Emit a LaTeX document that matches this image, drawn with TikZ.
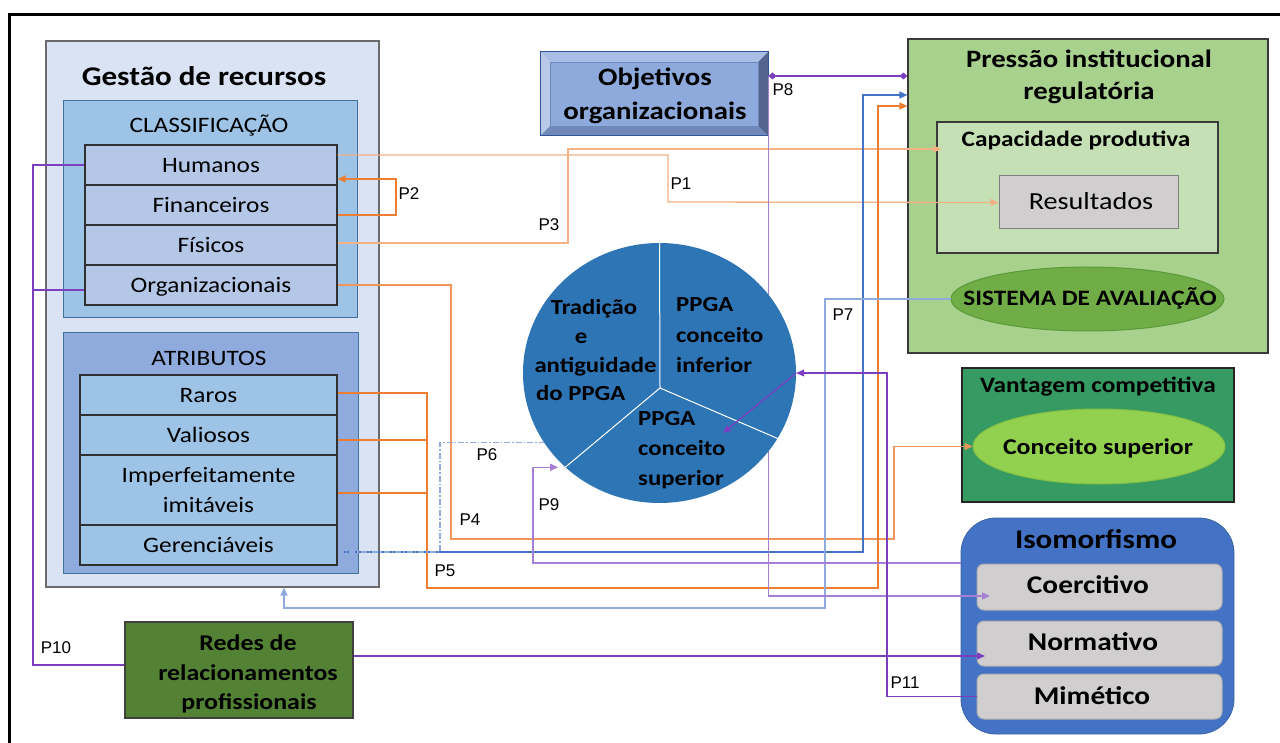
\documentclass[tikz,border=0pt]{standalone}
\usepackage{fontspec}
\setmainfont{Carlito}[FakeStretch=1.15]
\newfontfamily\pfont{Liberation Sans}
\usetikzlibrary{arrows.meta,shapes.geometric,calc}
\definecolor{gestF}{HTML}{DAE3F3}
\definecolor{gestB}{HTML}{6B6B6B}
\definecolor{clsF}{HTML}{9DC3E6}
\definecolor{clsB}{HTML}{41719C}
\definecolor{rowA}{HTML}{B4C7E7}
\definecolor{rowC}{HTML}{9DC3E6}
\definecolor{rowD}{HTML}{303030}
\definecolor{atrF}{HTML}{8FAADC}
\definecolor{objF}{HTML}{8EA9DB}
\definecolor{objT}{HTML}{A9BDE6}
\definecolor{objL}{HTML}{B8C9EA}
\definecolor{objBo}{HTML}{7189B9}
\definecolor{objR}{HTML}{53658F}
\definecolor{objB}{HTML}{2F5597}
\definecolor{presF}{HTML}{A9D18E}
\definecolor{presB}{HTML}{3A3A3A}
\definecolor{capF}{HTML}{C5E0B4}
\definecolor{resF}{HTML}{D0CECE}
\definecolor{resB}{HTML}{7F7F7F}
\definecolor{sisF}{HTML}{70AD47}
\definecolor{sisB}{HTML}{5B9A3A}
\definecolor{vantF}{HTML}{359B63}
\definecolor{concF}{HTML}{92D050}
\definecolor{concB}{HTML}{84C043}
\definecolor{isoF}{HTML}{4472C4}
\definecolor{subF}{HTML}{D0CECE}
\definecolor{subB}{HTML}{AFAFAF}
\definecolor{redF}{HTML}{548235}
\definecolor{pieF}{HTML}{2E75B6}
\definecolor{cO}{HTML}{ED7D31}
\definecolor{cO2}{HTML}{F29559}
\definecolor{cOL}{HTML}{F4B183}
\definecolor{cB}{HTML}{4472C4}
\definecolor{cBL}{HTML}{8FAADC}
\definecolor{cP}{HTML}{7B3FBF}
\definecolor{cPL}{HTML}{A57FD3}
\begin{document}
\begin{tikzpicture}[x=1pt,y=-1pt,
  ln/.style={line width=1.3pt},
  tip/.style={-{Triangle[length=8pt,width=7pt]}},
  bx/.style={draw, line width=1.2pt, inner sep=0pt, rectangle},
  txt/.style={anchor=base, inner sep=0pt},
  lbl/.style={anchor=base, inner sep=0pt, font=\pfont\fontsize{17}{20}\selectfont},
  rowtxt/.style={text height=14.2pt, text depth=0pt, font=\fontsize{22}{30}\selectfont},
  rowc/.style={bx, draw=rowD, line width=1.3pt, fill=rowA, minimum width=252pt, minimum height=40pt, rowtxt},
  rowa/.style={bx, draw=rowD, line width=1.3pt, fill=rowC, minimum width=257pt, minimum height=40pt},
  b22/.style={font=\bfseries\fontsize{22}{30}\selectfont},
  b25/.style={font=\bfseries\fontsize{25}{32}\selectfont},
  pt/.style={inner sep=0pt, font=\bfseries\fontsize{21.5}{29}\selectfont},
  sub/.style={draw=subB, line width=1pt, fill=subF, rounded corners=7pt, minimum width=245pt, minimum height=46pt, inner sep=0pt},
]
\useasboundingbox (0,0) rectangle (1280,743);
\fill[white] (0,0) rectangle (1280,743);
% outer frame
\draw[line width=3pt] (9.5,745) -- (9.5,14.5) -- (1282,14.5);

% ---------- Gestao de recursos ----------
\node[bx, draw=gestB, fill=gestF, minimum width=333pt, minimum height=546pt] (gest) at (212.5,314) {};
\node[txt, font=\bfseries\fontsize{27}{32}\selectfont] (gestt) at (204,86) {Gestão de recursos};
\node[bx, draw=clsB, fill=clsF, line width=0.9pt, minimum width=294pt, minimum height=217pt] (cls) at (210,208.5) {};
\node[txt, font=\fontsize{22}{30}\selectfont] (clst) at (209,133) {CLASSIFICAÇÃO};
\node[rowc] (hum) at (211,165) {Humanos};
\node[rowc] (fin) at (211,205) {Financeiros};
\node[rowc] (fis) at (211,245) {Físicos};
\node[rowc] (org) at (211,285) {Organizacionais};
\node[bx, draw=clsB, fill=atrF, line width=0.9pt, minimum width=295pt, minimum height=241pt] (atr) at (210.5,452.5) {};
\node[txt, font=\fontsize{22}{30}\selectfont] (atrt) at (209,365) {ATRIBUTOS};
\node[rowa, rowtxt] (rar) at (208.5,395) {Raros};
\node[rowa, rowtxt] (val) at (208.5,435) {Valiosos};
\node[rowa, minimum height=70pt, align=center, font=\fontsize{22}{30}\selectfont] (imp) at (208.5,490) {Imperfeitamente\\imitáveis};
\node[rowa, rowtxt] (ger) at (208.5,545) {Gerenciáveis};

% ---------- Objetivos organizacionais ----------
\fill[objT] (540,52) -- (768,52) -- (758,62) -- (550,62) -- cycle;
\fill[objL] (540,52) -- (550,62) -- (550,126) -- (540,136) -- cycle;
\fill[objBo] (540,136) -- (550,126) -- (758,126) -- (768,136) -- cycle;
\fill[objR] (768,52) -- (768,136) -- (758,126) -- (758,62) -- cycle;
\fill[objF] (550,62) rectangle (758,126);
\draw[objB!70, line width=0.6pt] (550,62) rectangle (758,126);
\node[bx, draw=objB, line width=1pt, minimum width=228pt, minimum height=84pt] (obj) at (654,94) {};
\node[txt, b25] (objt1) at (655,86) {Objetivos};
\node[txt, b25] (objt2) at (655,120) {organizacionais};

% ---------- Pressao institucional ----------
\node[bx, draw=presB, fill=presF, minimum width=360pt, minimum height=314pt] (pres) at (1088,196) {};
\node[txt, b25] (prest1) at (1089,68) {Pressão institucional};
\node[txt, b25] (prest2) at (1089,100) {regulatória};
\node[bx, draw=presB, fill=capF, minimum width=281pt, minimum height=131pt] (cap) at (1077.5,187.5) {};
\node[txt, b22] (capt) at (1076,147) {Capacidade produtiva};
\node[bx, draw=resB, fill=resF, line width=1pt, minimum width=179pt, minimum height=53pt] (res) at (1088.5,202.5) {};
\node[txt, font=\fontsize{24.5}{30}\selectfont] (rest) at (1091,210) {Resultados};
\node[ellipse, draw=sisB, fill=sisF, line width=1pt, inner sep=0pt, minimum width=273pt, minimum height=64pt] (sis) at (1087.5,299) {};
\node[txt, b22] (sist) at (1090,306) {SISTEMA DE AVALIAÇÃO};

% ---------- Vantagem competitiva ----------
\node[bx, draw=black!85, fill=vantF, minimum width=272pt, minimum height=134pt] (vant) at (1098,435) {};
\node[txt, b22] (vantt) at (1098,392) {Vantagem competitiva};
\node[ellipse, draw=concB, fill=concF, line width=1pt, inner sep=0pt, minimum width=252pt, minimum height=75pt] (conc) at (1099,446.5) {};
\node[txt, font=\bfseries\fontsize{22.5}{30}\selectfont] (conct) at (1098,454) {Conceito superior};

% ---------- Isomorfismo ----------
\node[draw=isoF!85!black, fill=isoF, line width=0.8pt, rounded corners=35pt, inner sep=0pt, minimum width=273pt, minimum height=216pt] (iso) at (1097.5,626) {};
\node[txt, font=\bfseries\fontsize{27}{32}\selectfont] (isot) at (1096,548) {Isomorfismo};
\node[sub] (coe) at (1099.5,587) {};
\node[sub, minimum height=45pt] (nor) at (1099.5,643.5) {};
\node[sub, minimum height=45pt] (mim) at (1099.5,696.5) {};
\node[txt, font=\bfseries\fontsize{25.5}{30}\selectfont] (coet) at (1088,593) {Coercitivo};
\node[txt, font=\bfseries\fontsize{25.5}{30}\selectfont] (nort) at (1093,650) {Normativo};
\node[txt, font=\bfseries\fontsize{25.5}{30}\selectfont] (mimt) at (1092,704) {Mimético};

% ---------- Redes ----------
\node[bx, draw=black!75, fill=redF, minimum width=228pt, minimum height=96pt] (redes) at (239,670) {};
\node[txt, font=\bfseries\fontsize{22.5}{30}\selectfont] (redt1) at (248,650) {Redes de};
\node[txt, font=\bfseries\fontsize{22.5}{30}\selectfont] (redt2) at (248,680) {relacionamentos};
\node[txt, font=\bfseries\fontsize{22.5}{30}\selectfont] (redt3) at (249,709) {profissionais};

% ---------- helper coordinates ----------
\coordinate (coeIn) at (990,596);
\coordinate (norIn) at (985,656);
\coordinate (supIn) at (723,433);

% ---------- connectors (under the pie) ----------
% P1
\draw[ln, cOL, tip] (hum.east |- 0,155) -| (668,202) -- (res.west);
% P2
\draw[ln, cO, tip] (fin.east |- 0,215) -| (396,179) -- (hum.east |- 0,179);
% P3
\draw[ln, cOL, tip, shorten >=-5pt] (fis.east |- 0,243) -| (568,149) -- (cap.west |- 0,149);
% P4
\draw[ln, cO2, tip] (org.east) -| (451,539) -| (894,446.5) -- (conc.west);
% P5
\draw[ln, cO, tip] (rar.east |- 0,393) -| (427,588) -| (878,106) -- (pres.west |- 0,106);
\draw[ln, cO] (val.east |- 0,440) -- (427,440);
\draw[ln, cO] (imp.east |- 0,493) -- (427,493);
% Gerenciaveis -> Pressao
\draw[ln, cB, tip] (ger.east |- 0,552) -| (863,95) -- (pres.west |- 0,95);
% P7
\draw[ln, cBL, tip] (sis.west) -| (825,608) -| (284,0 |- gest.south);
% P8
\draw[ln, cPL, tip] (obj.east |- 0,76) |- (coeIn);
\draw[ln, cP, {Diamond[length=8pt,width=7pt]}-{Diamond[length=8pt,width=7pt]}] (obj.east |- 0,76) -- (pres.west |- 0,76);
% P10
\draw[ln, cP] (hum.west) -| (33,665) -- (redes.west |- 0,665);
\draw[ln, cP] (org.west |- 0,290) -- (33,290);
\draw[ln, cP, tip] (redes.east |- 0,656) -- (norIn);

% ---------- pie ----------
\node[ellipse, fill=pieF, inner sep=0pt, minimum width=273pt, minimum height=260pt] (pie) at (659.5,373) {};
\coordinate (pc) at (660,388);
\draw[white, line width=1pt] (pie.north) -- (pc) -- (pie.225);
\draw[white, line width=1pt] (pc) -- (pie.331);
\node[txt, pt] (pa1) at (594,315) {Tradição};
\node[txt, pt] (pa2) at (581,344) {e};
\node[txt, pt] (pa3) at (595.5,372) {antiguidade};
\node[txt, pt, anchor=base west] (pa4) at (536,400) {do PPGA};
\node[txt, pt, anchor=base west] (pb1) at (676,312) {PPGA};
\node[txt, pt, anchor=base west] (pb2) at (676,342) {conceito};
\node[txt, pt, anchor=base west] (pb3) at (676,372) {inferior};
\node[txt, pt, anchor=base west] (pc1) at (638,425) {PPGA};
\node[txt, pt, anchor=base west] (pc2) at (638,455) {conceito};
\node[txt, pt, anchor=base west] (pc3) at (638,485) {superior};

% ---------- connectors over the pie ----------
% P6
\draw[ln, cBL, dash pattern=on 6pt off 2pt on 1.5pt off 2pt] (ger.east |- 0,552) -| (440,0 |- pie.211) -- (pie.211);
% P9
\draw[ln, cPL, tip, shorten >=7pt] (iso.west |- 0,563) -| (533,0 |- pie.225) -- (pie.225);
% P11
\draw[ln, cP, tip] (mim.west) -| (887,0 |- pie.east) -- (pie.east);
\draw[ln, cP, tip] (pie.east) -- (supIn);

% ---------- labels ----------
\node[lbl] (l1) at (681,190) {P1};
\node[lbl] (l2) at (409,200) {P2};
\node[lbl] (l3) at (549,231) {P3};
\node[lbl] (l4) at (470,525) {P4};
\node[lbl] (l5) at (445,576) {P5};
\node[lbl] (l6) at (487,460) {P6};
\node[lbl] (l7) at (843,321) {P7};
\node[lbl] (l8) at (783,96) {P8};
\node[lbl] (l9) at (549,510) {P9};
\node[lbl] (l10) at (56,653) {P10};
\node[lbl] (l11) at (905,688) {P11};
\end{tikzpicture}
\end{document}
